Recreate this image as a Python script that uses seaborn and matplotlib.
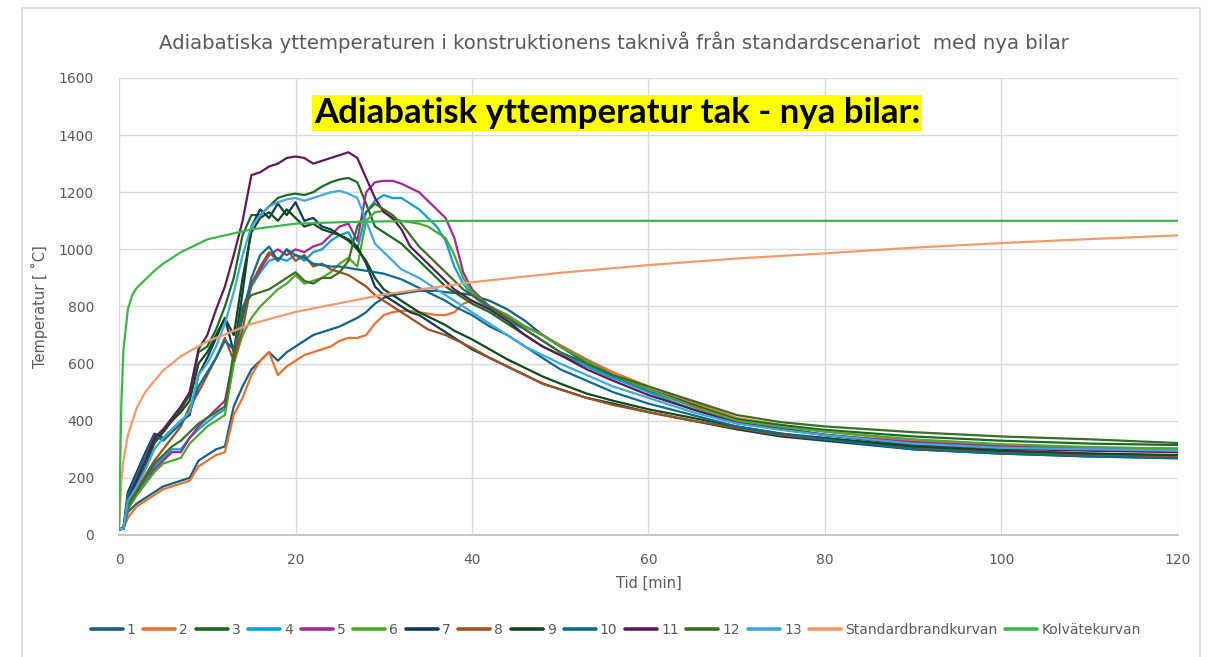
import matplotlib.pyplot as plt
import matplotlib.patches as mpatches
import pandas as pd
import seaborn as sns

sns.set_theme(style="whitegrid")
plt.rcParams['font.family'] = ['Liberation Sans Narrow', 'DejaVu Sans']

# time grid [min] shared by the 13 simulated cars
T_SIM = [0, 0.5, 1, 2, 3, 4, 5, 6, 7, 8, 9, 10, 11, 12, 13, 14, 15, 16, 17, 18, 19, 20,
         21, 22, 23, 24, 25, 26, 27, 28, 29, 30, 31, 32, 33, 34, 35, 36, 37, 38, 39, 40,
         42, 44, 46, 48, 50, 53, 56, 60, 65, 70, 75, 80, 90, 100, 110, 120]

S1 = [20, 22, 80, 110, 130, 150, 170, 180, 190, 200, 260, 280, 300, 310, 450, 520, 580, 610, 640, 610, 640, 660,
      680, 700, 710, 720, 730, 745, 760, 780, 810, 830, 840, 845, 850, 855, 855, 855, 850, 848, 845, 840,
      820, 790, 750, 700, 660, 600, 555, 510, 460, 405, 375, 350, 315, 295, 285, 278]
S2 = [20, 22, 60, 100, 120, 140, 160, 170, 180, 190, 240, 260, 280, 290, 420, 480, 560, 610, 640, 560, 590, 610,
      630, 640, 650, 660, 680, 690, 690, 700, 740, 770, 780, 785, 785, 780, 775, 770, 770, 780, 810, 820,
      790, 760, 730, 700, 665, 615, 570, 520, 465, 410, 385, 362, 330, 312, 302, 296]
S3 = [20, 22, 110, 180, 240, 320, 360, 400, 440, 490, 640, 660, 720, 800, 900, 1050, 1120, 1120, 1150, 1180, 1190, 1195,
      1190, 1200, 1220, 1235, 1245, 1250, 1235, 1160, 1080, 1060, 1040, 1020, 990, 960, 930, 900, 870, 850, 830, 810,
      780, 740, 700, 660, 630, 590, 550, 505, 455, 405, 385, 368, 345, 330, 320, 315]
S4 = [20, 22, 100, 150, 190, 240, 270, 300, 300, 340, 370, 395, 420, 440, 600, 770, 870, 920, 960, 970, 960, 980,
      960, 990, 1000, 1030, 1050, 1060, 1000, 1130, 1170, 1190, 1180, 1180, 1160, 1140, 1110, 1080, 1030, 940, 880, 840,
      790, 750, 720, 680, 640, 590, 550, 500, 440, 395, 370, 352, 322, 310, 305, 303]
S5 = [20, 22, 90, 140, 180, 230, 260, 290, 290, 340, 380, 410, 440, 470, 620, 790, 880, 930, 980, 1000, 980, 1000,
      990, 1010, 1020, 1050, 1080, 1090, 1030, 1200, 1235, 1240, 1240, 1230, 1215, 1200, 1170, 1140, 1110, 1040, 920, 860,
      800, 770, 730, 700, 660, 610, 560, 510, 450, 400, 372, 350, 325, 310, 300, 298]
S6 = [20, 22, 90, 140, 180, 220, 250, 260, 270, 320, 350, 380, 400, 420, 600, 700, 760, 800, 830, 860, 880, 910,
      880, 890, 900, 920, 950, 970, 940, 1100, 1130, 1135, 1105, 1100, 1095, 1090, 1080, 1060, 1040, 980, 900, 850,
      800, 770, 730, 700, 660, 610, 560, 510, 450, 400, 378, 362, 335, 318, 308, 302]
S7 = [20, 22, 150, 220, 290, 355, 340, 370, 400, 420, 560, 620, 690, 760, 640, 850, 1080, 1140, 1110, 1160, 1120, 1165,
      1100, 1110, 1080, 1070, 1050, 1035, 1010, 950, 870, 840, 820, 800, 780, 770, 750, 730, 710, 690, 670, 650,
      620, 590, 560, 530, 510, 480, 460, 430, 400, 370, 345, 330, 300, 285, 275, 270]
S8 = [20, 22, 110, 160, 210, 260, 300, 340, 380, 450, 500, 560, 620, 690, 610, 720, 880, 940, 990, 960, 1000, 960,
      980, 940, 950, 930, 920, 910, 890, 870, 840, 820, 800, 780, 760, 740, 720, 710, 700, 685, 670, 655,
      620, 590, 560, 530, 510, 480, 455, 430, 400, 375, 350, 335, 305, 290, 280, 275]
S9 = [20, 22, 130, 200, 260, 330, 360, 400, 430, 470, 600, 640, 700, 760, 700, 900, 1060, 1110, 1130, 1100, 1140, 1110,
      1080, 1090, 1070, 1060, 1050, 1030, 1000, 960, 900, 860, 840, 820, 800, 780, 765, 750, 735, 715, 700, 685,
      650, 615, 585, 555, 530, 495, 470, 440, 410, 380, 355, 340, 310, 295, 285, 280]
S10 = [20, 22, 140, 210, 280, 350, 330, 360, 390, 430, 520, 570, 620, 680, 650, 760, 900, 980, 1010, 960, 1000, 980,
       970, 950, 945, 940, 940, 935, 930, 925, 920, 915, 905, 895, 880, 865, 850, 835, 820, 800, 785, 770,
       730, 700, 660, 620, 580, 540, 500, 460, 420, 380, 355, 335, 300, 285, 275, 268]
S11 = [20, 25, 120, 190, 260, 340, 370, 410, 450, 500, 650, 700, 790, 870, 980, 1100, 1260, 1270, 1290, 1300, 1320, 1325,
       1320, 1300, 1310, 1320, 1330, 1340, 1320, 1250, 1180, 1130, 1110, 1070, 1010, 980, 950, 920, 890, 860, 840, 820,
       790, 750, 700, 660, 630, 580, 540, 490, 440, 392, 370, 350, 320, 302, 295, 290]
S12 = [20, 22, 100, 150, 200, 250, 280, 310, 330, 360, 390, 410, 430, 450, 640, 800, 840, 850, 860, 880, 900, 920,
       890, 880, 900, 900, 920, 960, 1080, 1130, 1160, 1140, 1120, 1090, 1050, 1010, 980, 950, 920, 890, 860, 840,
       800, 760, 720, 680, 640, 600, 560, 520, 470, 420, 395, 380, 360, 345, 335, 322]
S13 = [20, 22, 120, 170, 230, 300, 340, 370, 400, 430, 560, 600, 660, 740, 850, 980, 1080, 1120, 1150, 1165, 1175, 1180,
       1170, 1180, 1190, 1200, 1205, 1195, 1180, 1100, 1020, 990, 960, 930, 915, 900, 880, 860, 840, 820, 800, 780,
       740, 700, 660, 630, 600, 560, 520, 480, 430, 390, 368, 350, 320, 305, 300, 295]

T_STD = [0, 0.25, 0.5, 1, 2, 3, 5, 7, 10, 15, 20, 30, 40, 50, 60, 70, 80, 90, 100, 110, 120]
STD = [20, 185, 261, 349, 445, 502, 576, 626, 678, 739, 781, 842, 885, 918, 945, 968, 986, 1006, 1022, 1036, 1049]

T_KOLV = [0, 0.25, 0.5, 1, 1.5, 2, 3, 4, 5, 7, 10, 15, 20, 25, 30, 40, 60, 80, 100, 120]
KOLV = [20, 450, 650, 790, 840, 865, 895, 925, 950, 990, 1035, 1070, 1090, 1095, 1098, 1100, 1100, 1100, 1100, 1100]

NAMES = [str(i) for i in range(1, 14)] + ['Standardbrandkurvan', 'Kolvätekurvan']
COLORS = ['#156082', '#E97132', '#196B24', '#0F9ED5', '#A02B93', '#4EA72E', '#0E3A52',
          '#A0501F', '#114A1A', '#0A6A90', '#5E1A57', '#3A6E26', '#3FA8DC',
          '#F39A6B', '#3DB54A']

sims = [S1, S2, S3, S4, S5, S6, S7, S8, S9, S10, S11, S12, S13]
frames = [pd.DataFrame({'Tid': T_SIM, 'Temp': s, 'Serie': NAMES[i]}) for i, s in enumerate(sims)]
frames.append(pd.DataFrame({'Tid': T_STD, 'Temp': STD, 'Serie': NAMES[13]}))
frames.append(pd.DataFrame({'Tid': T_KOLV, 'Temp': KOLV, 'Serie': NAMES[14]}))
df = pd.concat(frames, ignore_index=True)

fig = plt.figure(figsize=(12.11, 6.57), dpi=100)
ax = fig.add_axes([0.0983, 0.1857, 0.8744, 0.6956])

sns.lineplot(data=df, x='Tid', y='Temp', hue='Serie', hue_order=NAMES,
             palette=dict(zip(NAMES, COLORS)), estimator=None, sort=False,
             linewidth=1.6, ax=ax)

grey = '#595959'
ax.set_xlim(0, 120)
ax.set_ylim(0, 1600)
ax.set_xticks(range(0, 121, 20))
ax.set_yticks(range(0, 1601, 200))
ax.tick_params(colors=grey, labelsize=10, length=0)
ax.tick_params(axis='y', pad=18)
ax.tick_params(axis='x', pad=13)
ax.grid(color='#d9d9d9', linewidth=1)
for side in ['top', 'right', 'left']:
    ax.spines[side].set_visible(False)
ax.spines['bottom'].set_color('#bfbfbf')
ax.set_facecolor('white')
ax.set_xlabel('Tid [min]', color=grey, fontsize=10.5, labelpad=6)
ax.set_ylabel('Temperatur [ ˚C]', color=grey, fontsize=10.5, labelpad=8)

sns.move_legend(ax, 'upper center', bbox_to_anchor=(0.469, -0.165), ncol=15, title=None,
                frameon=False, fontsize=10, handlelength=2.3, handletextpad=0.3,
                columnspacing=0.55, labelcolor=grey)
for line in ax.get_legend().get_lines():
    line.set_linewidth(2.6)

fig.text(0.507, 0.935, 'Adiabatiska yttemperaturen i konstruktionens taknivå från standardscenariot  med nya bilar',
         ha='center', va='center', color=grey, fontsize=14.2)
fig.text(0.5095, 0.828, 'Adiabatisk yttemperatur tak - nya bilar:', ha='center', va='center',
         fontsize=25, fontweight='bold', color='black', family=['Lato', 'DejaVu Sans'],
         bbox=dict(facecolor='#FFFF00', edgecolor='none', pad=1.5))

fig.patches.append(mpatches.Rectangle((0.018, -0.01), 0.973, 0.998, transform=fig.transFigure,
                                      fill=False, edgecolor='#d9d9d9', linewidth=1.2))

fig.savefig('out.png', dpi=100, facecolor='white')
